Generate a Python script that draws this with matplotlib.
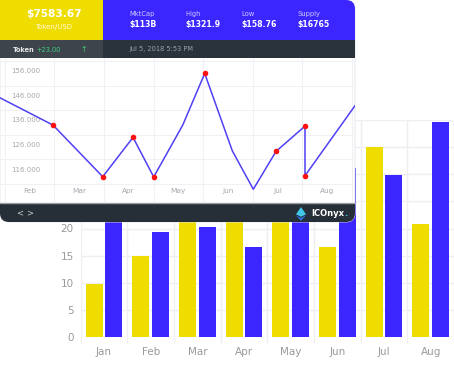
import matplotlib
matplotlib.use("Agg")
import matplotlib.pyplot as plt
from matplotlib.patches import FancyBboxPatch, Rectangle, Polygon

plt.rcParams['font.family'] = ['DejaVu Sans']

# bar chart data
months = ['Jan', 'Feb', 'Mar', 'Apr', 'May', 'Jun', 'Jul', 'Aug']
yellow_vals = [9.8, 15.0, 25.0, 23.0, 28.0, 16.6, 35.1, 20.9]
blue_vals = [24.0, 19.3, 20.2, 16.6, 22.0, 31.1, 29.8, 39.7]
bar_yticks = [0, 5, 10, 15, 20, 25, 30, 35, 40]

# line chart data
line_months = ['Feb', 'Mar', 'Apr', 'May', 'Jun', 'Jul', 'Aug']
line_x = [-0.595, 0.474, 1.476, 2.087, 2.504, 3.089, 3.532, 4.089, 4.512, 4.970, 5.554, 5.554, 6.562]
line_y = [145.0, 133.9, 112.9, 128.9, 112.8, 133.9, 154.9, 123.4, 107.8, 123.2, 133.5, 113.3, 141.8]
dot_idx = [1, 2, 3, 4, 6, 9, 10, 11]
line_yticks = [116, 126, 136, 146, 156]
line_ytick_labels = ['116.000', '126.000', '136.000', '146.000', '156.000']

# header numbers
price = '$7583.67'
pair = 'Token/USD'
stats = [('MktCap', '$113B'), ('High', '$1321.9'), ('Low', '$158.76'), ('Supply', '$16765')]
change = '+23.00'
stamp = 'Jul 5, 2018 5:53 PM'

YEL = '#F0DD00'
BLU = '#3B26FF'
GRID = '#EEEEF3'

W, H = 454, 367
fig = plt.figure(figsize=(4.54, 3.67), dpi=100)
fig.patch.set_facecolor('white')


def box(x0, y0, x1, y1):
    return [x0 / W, 1 - y1 / H, (x1 - x0) / W, (y1 - y0) / H]


# ---- bar chart (behind) ----
ax = fig.add_axes(box(80.7, 120, 454, 337), zorder=0)
xs = list(range(len(months)))
ax.bar([x - 0.21 for x in xs], yellow_vals, width=0.36, color=YEL, zorder=2)
ax.bar([x + 0.21 for x in xs], blue_vals, width=0.36, color=BLU, zorder=2)
ax.set_xlim(-0.5, 7.5 - 5 / 47.3)
ax.set_ylim(0, 40)
ax.set_xticks(xs)
ax.set_xticklabels(months)
ax.set_xticks([x - 0.5 for x in range(len(months) + 1)], minor=True)
ax.set_yticks(bar_yticks)
ax.tick_params(axis='x', which='major', length=0, pad=7, labelsize=7.5, labelcolor='#9a9a9a')
ax.tick_params(axis='x', which='minor', length=4, color=GRID, width=1)
ax.tick_params(axis='y', length=0, pad=5, labelsize=7.5, labelcolor='#9a9a9a')
ax.grid(axis='y', color=GRID, lw=1, zorder=0)
ax.grid(axis='x', which='minor', color=GRID, lw=1, zorder=0)
for s in ax.spines.values():
    s.set_visible(False)

# ---- panel (on top) ----
ov = fig.add_axes([0, 0, 1, 1], zorder=1)
ov.set_xlim(0, W)
ov.set_ylim(H, 0)
ov.axis('off')
ov.patch.set_alpha(0)

panel = FancyBboxPatch((0, 0), 355, 222, boxstyle='round,pad=0,rounding_size=9',
                       fc='white', ec='#e2e3e8', lw=0.6)
ov.add_patch(panel)
for (x0, y0, w, h, c) in [(0, 0, 103, 40, YEL), (103, 0, 252, 40, BLU),
                          (0, 40, 103, 18, '#3d444c'), (103, 40, 252, 18, '#2a323b'),
                          (0, 203, 355, 19, '#262e37')]:
    r = Rectangle((x0, y0), w, h, fc=c, ec='none')
    ov.add_patch(r)
    r.set_clip_path(panel)
ov.add_patch(Rectangle((0, 0), 10, 10, fc=YEL, ec='none'))
ov.plot([0, 355], [203, 203], color='#9aa0a6', lw=1)

ov.text(54, 14, price, color='white', fontsize=7.6, fontweight='bold', ha='center', va='center')
ov.text(54, 26.5, pair, color='#fffbe0', fontsize=5.0, ha='center', va='center')
for i, (lab, val) in enumerate(stats):
    x = 129 + i * 56
    ov.text(x, 14, lab, color='#cfcaff', fontsize=4.9, ha='left', va='center')
    ov.text(x, 25, val, color='white', fontsize=5.6, fontweight='bold', ha='left', va='center')

ov.text(13, 49.5, 'Token', color='#e6e8ea', fontsize=4.8, fontweight='bold', ha='left', va='center')
ov.text(36.5, 49.5, change, color='#3fd17f', fontsize=4.8, ha='left', va='center')
ov.text(84, 49, '\u2191', color='#3fd17f', fontsize=5.5, ha='center', va='center')
ov.text(129, 49.5, stamp, color='#9aa0a8', fontsize=4.8, ha='left', va='center')

ov.text(20, 213, '<', color='#c8ccd0', fontsize=6, ha='center', va='center')
ov.text(30, 213, '>', color='#c8ccd0', fontsize=6, ha='center', va='center')
ov.add_patch(Polygon([(301, 207), (306, 214.3), (301, 216.8), (296, 214.3)], fc='#41c6ea', ec='none'))
ov.add_patch(Polygon([(296, 215.4), (301, 217.9), (306, 215.4), (301, 221)], fc='#2f6fd9', ec='none'))
ov.text(311, 213.5, 'ICOnyx', color='white', fontsize=6.0, fontweight='bold', ha='left', va='center')
ov.text(344, 213.5, '.', color='#41c6ea', fontsize=6.0, fontweight='bold', ha='left', va='center')

# ---- line chart inside panel ----
la = fig.add_axes(box(0, 58, 355, 203), zorder=2)
la.patch.set_alpha(0)
la.plot(line_x, line_y, color='#5040F5', lw=1.1, zorder=3, clip_on=True)
la.plot([line_x[i] for i in dot_idx], [line_y[i] for i in dot_idx], 'o',
        color='#ff1111', ms=3, zorder=4)
la.set_xlim(-0.595, 6.562)
la.set_ylim(102.2, 161.2)
la.set_xticks(range(len(line_months)))
la.set_xticklabels(line_months)
la.set_xticks([x - 0.5 for x in range(len(line_months) + 1)], minor=True)
la.set_yticks(line_yticks)
la.set_yticklabels(line_ytick_labels)
la.set_yticks([110, 120, 130, 140, 150, 160], minor=True)
la.tick_params(axis='x', which='major', length=0, pad=-10.5, labelsize=5.3, labelcolor='#a8a8ae')
la.tick_params(axis='y', which='major', length=0, pad=-8, labelsize=5.0, labelcolor='#a8a8ae')
for t in la.get_yticklabels():
    t.set_horizontalalignment('left')
la.tick_params(which='minor', length=0)
la.grid(which='minor', color='#F1F1F5', lw=0.8, zorder=0)
for s in la.spines.values():
    s.set_visible(False)

fig.savefig('out.png', dpi=100)
